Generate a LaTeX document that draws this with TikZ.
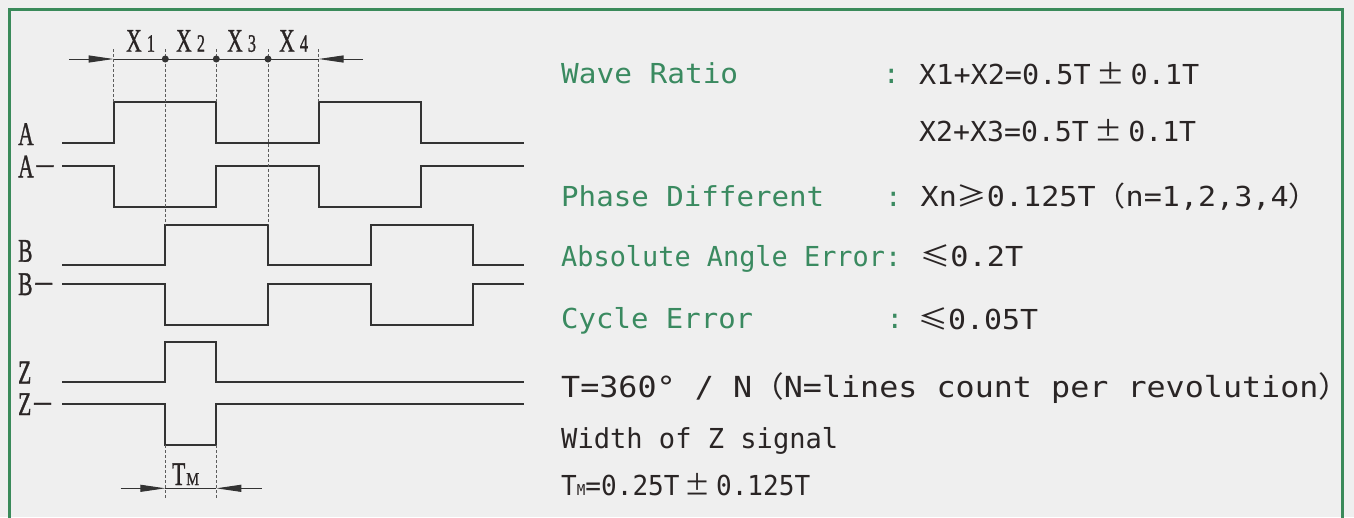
\documentclass[tikz,border=0pt]{standalone}
\usepackage{fontspec}
\usepackage{graphicx}
\usetikzlibrary{arrows.meta}
\setmainfont{Liberation Serif}
\newfontfamily\labf[FakeBold=1.2]{Liberation Serif}
\newfontfamily\monof{DejaVu Sans Mono}
\newfontfamily\cjkf{Noto Sans CJK SC}
\definecolor{bgc}{HTML}{EFEFEF}
\definecolor{framec}{HTML}{3A8A5A}
\definecolor{gtext}{HTML}{3A8A60}
\definecolor{dtext}{HTML}{2A2525}
\definecolor{wavec}{HTML}{333333}
\newcommand{\fitw}[2]{\resizebox{#1pt}{\height}{#2}}
\newcommand{\pmwide}{\hspace{0.2em}{\cjkf ±}\hspace{0.2em}}
\newcommand{\lew}{{\cjkf ≤}}
\newcommand{\gew}{{\cjkf ≥}}
\newcommand{\lparw}{{\cjkf （}}
\newcommand{\rparw}{{\cjkf ）}}
\newcommand{\sx}[1]{\scalebox{0.65}[1]{#1}}
\tikzset{
  wave/.style={draw=wavec, line width=2pt, line join=miter},
  guide/.style={draw=wavec!80, line width=0.8pt, dash pattern=on 3pt off 2pt},
  dimline/.style={draw=wavec, line width=1pt},
  dimarrow/.style={draw=wavec, line width=1pt, -{Triangle[length=25pt,width=7pt]}},
  gtxt/.style={anchor=base west, inner sep=0pt, text=gtext, font=\monof\fontsize{27.5}{30}\selectfont},
  dtxt/.style={anchor=base west, inner sep=0pt, text=dtext, font=\monof\fontsize{27.5}{30}\selectfont},
  colon/.style={anchor=base, inner sep=0pt, text=gtext, font=\monof\fontsize{27.5}{30}\selectfont},
  sig/.style={anchor=base west, inner sep=0pt, text=dtext, font=\labf\fontsize{33}{36}\selectfont},
}
\begin{document}
\begin{tikzpicture}[x=1pt,y=-1pt]
\useasboundingbox (0,0) rectangle (1354,517);
\fill[bgc] (0,0) rectangle (1354,517);
% frame
\draw[framec, line width=3pt] (9.7,518) -- (9.7,9.7) -- (1342.3,9.7) -- (1342.3,518);

% ---------- waveforms ----------
\draw[wave] (62,142.7) -- (113.6,142.7) -- (113.6,101.5) -- (216.3,101.5) -- (216.3,142.7) -- (318.5,142.7) -- (318.5,101.5) -- (420.8,101.5) -- (420.8,142.7) -- (524,142.7);
\draw[wave] (62,166) -- (113.6,166) -- (113.6,207.3) -- (216.3,207.3) -- (216.3,166) -- (318.5,166) -- (318.5,207.3) -- (420.8,207.3) -- (420.8,166) -- (524,166);
\draw[wave] (62,265) -- (165.3,265) -- (165.3,225) -- (268,225) -- (268,265) -- (370.9,265) -- (370.9,225) -- (472.5,225) -- (472.5,265) -- (524,265);
\draw[wave] (62,284) -- (165.3,284) -- (165.3,324.7) -- (268,324.7) -- (268,284) -- (370.9,284) -- (370.9,324.7) -- (472.5,324.7) -- (472.5,284) -- (524,284);
\draw[wave] (62,381.7) -- (165.3,381.7) -- (165.3,342) -- (216.3,342) -- (216.3,381.7) -- (524,381.7);
\draw[wave] (62,404) -- (165.3,404) -- (165.3,445.3) -- (216.3,445.3) -- (216.3,404) -- (524,404);

% ---------- guides ----------
\draw[guide] (113.6,49) -- (113.6,101.5);
\draw[guide] (165.3,49) -- (165.3,225);
\draw[guide] (216.3,49) -- (216.3,101.5);
\draw[guide] (268,49) -- (268,225);
\draw[guide] (318.5,49) -- (318.5,101.5);
\draw[guide] (165.3,445.3) -- (165.3,498);
\draw[guide] (216.3,445.3) -- (216.3,498);

% ---------- top dimension ----------
\coordinate (dl) at (68.9,59);
\coordinate (d0) at (113.6,59);
\coordinate (d1) at (165.3,59);
\coordinate (d2) at (216.3,59);
\coordinate (d3) at (268,59);
\coordinate (d4) at (318.5,59);
\coordinate (dr) at (363,59);
\draw[dimarrow] (dl) -- (d0);
\draw[dimline] (d0) -- (d4);
\draw[dimarrow] (dr) -- (d4);
\fill[wavec] (d1) circle (3.5pt) (d2) circle (3.5pt) (d3) circle (3.5pt);

% ---------- Tm dimension ----------
\coordinate (tl) at (120.5,488.3);
\coordinate (t0) at (165.3,488.3);
\coordinate (t1) at (216.3,488.3);
\coordinate (tr) at (261.7,488.3);
\draw[dimarrow] (tl) -- (t0);
\draw[dimline] (t0) -- (t1);
\draw[dimarrow] (tr) -- (t1);

% ---------- left labels ----------
\node[sig] (lx1) at (126,51.7) {\sx{X\kern8pt{\fontsize{25}{25}\selectfont 1}}};
\node[sig] (lx2) at (176,51.7) {\sx{X\kern8pt{\fontsize{25}{25}\selectfont 2}}};
\node[sig] (lx3) at (227,51.7) {\sx{X\kern8pt{\fontsize{25}{25}\selectfont 3}}};
\node[sig] (lx4) at (279,51.7) {\sx{X\kern8pt{\fontsize{25}{25}\selectfont 4}}};
\node[sig] (la) at (18,145) {\sx{A}};
\node[sig] (lan) at (18,177.3) {\sx{A}\kern3pt\raisebox{3.5pt}{–}};
\node[sig] (lb) at (18,261.7) {\sx{B}};
\node[sig] (lbn) at (18,295) {\sx{B}\kern3pt\raisebox{3.5pt}{–}};
\node[sig] (lz) at (18,383.3) {\sx{Z}};
\node[sig] (lzn) at (18,415) {\sx{Z}\kern3pt\raisebox{3.5pt}{–}};
\node[sig] (ltm) at (172,485) {\sx{T}\kern1pt\scalebox{0.8}[1]{\fontsize{18}{18}\selectfont M}};

% ---------- right text ----------
\node[gtxt] (n1) at (561,83.3) {\fitw{177}{Wave Ratio}};
\node[colon] (n2) at (891.5,83.3) {:};
\node[dtxt] (n3) at (919,84.3) {\fitw{280}{X1+X2=0.5T\pmwide 0.1T}};
\node[dtxt] (n4) at (919,141) {\fitw{277}{X2+X3=0.5T\pmwide 0.1T}};
\node[gtxt] (n5) at (561,206.7) {\fitw{263}{Phase Different}};
\node[colon] (n6) at (893.5,206.7) {:};
\node[dtxt] (n7) at (920.5,206.7) {\fitw{398}{Xn\gew 0.125T\lparw n=1,2,3,4\rparw}};
\node[gtxt] (n8) at (561,266.7) {\fitw{340}{Absolute Angle Error:}};
\node[dtxt] (n9) at (920,266.7) {\fitw{103}{\lew 0.2T}};
\node[gtxt] (n10) at (561,328.3) {\fitw{192}{Cycle Error}};
\node[colon] (n11) at (895,328.3) {:};
\node[dtxt] (n12) at (918,329) {\fitw{120}{\lew 0.05T}};
\node[dtxt, font=\monof\fontsize{29}{32}\selectfont] (n13) at (561,397.3) {\fitw{789}{T=360° / N\lparw N=lines count per revolution\rparw}};
\node[dtxt] (n14) at (561,448.3) {\fitw{277}{Width of Z signal}};
\node[dtxt] (n15) at (561,495) {\fitw{249}{T{\fontsize{15}{15}\selectfont M}=0.25T\pmwide 0.125T}};
\end{tikzpicture}
\end{document}
